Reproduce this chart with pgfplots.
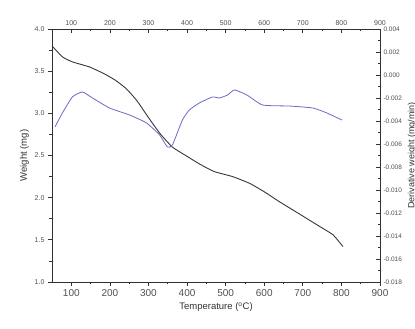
\documentclass[border=0pt]{standalone}
\usepackage{pgfplots}
\pgfplotsset{compat=1.18}
\usepackage{fontspec}
\setmainfont{Liberation Sans}
\definecolor{wcol}{RGB}{55,55,60}
\definecolor{dcol}{RGB}{105,105,200}
\definecolor{axcol}{RGB}{50,50,50}
\definecolor{lblcol}{RGB}{80,80,80}
\begin{document}
\begin{tikzpicture}
\clip (-52pt,-47pt) rectangle (363pt,282pt);
\begin{axis}[
  at={(0,0)}, anchor=south west,
  scale only axis, width=328pt, height=253pt,
  xmin=50, xmax=900, ymin=1, ymax=4,
  axis x line*=bottom, axis y line*=left,
  axis line style={axcol, line width=0.8pt},
  xtick={100,200,...,900}, minor x tick num=1,
  ytick={1,1.5,...,4}, minor y tick num=1,
  tick style={axcol, line width=0.7pt},
  major tick length=4pt, minor tick length=2.5pt,
  tick align=outside,
  /pgf/number format/assume math mode=true,
  yticklabel style={/pgf/number format/fixed, /pgf/number format/fixed zerofill, /pgf/number format/precision=1},
  x tick label style={font=\fontsize{10}{11}\selectfont, text=lblcol},
  y tick label style={font=\fontsize{7}{8}\selectfont, text=lblcol},
  xlabel={Temperature (\textsuperscript{o}C)},
  ylabel={Weight (mg)},
  label style={font=\fontsize{9.5}{10}\selectfont, text=axcol},
  xlabel style={yshift=1pt},
  ylabel style={yshift=-1pt},
]
\addplot[wcol, line width=0.9pt, smooth, tension=0.3] coordinates {
(50,3.80) (77,3.67) (103,3.61) (147,3.55) (185,3.47) (215,3.39) (243,3.29)
(270,3.15) (300,2.95) (330,2.76) (362,2.60) (400,2.49) (432,2.40) (470,2.31)
(518,2.25) (562,2.17) (600,2.07) (640,1.95) (690,1.81) (736,1.68) (778,1.56) (804,1.42)
};
\end{axis}
\begin{axis}[
  at={(0,0)}, anchor=south west,
  scale only axis, width=328pt, height=253pt,
  xmin=50, xmax=900, ymin=-0.018, ymax=0.004,
  axis x line*=top, axis y line*=right,
  axis line style={axcol, line width=0.8pt},
  xtick={100,200,...,900}, minor x tick num=1,
  ytick={-0.018,-0.016,...,0.004}, minor y tick num=1,
  scaled y ticks=false,
  tick style={axcol, line width=0.7pt},
  major tick length=4pt, minor tick length=2.5pt,
  tick align=inside,
  /pgf/number format/assume math mode=true,
  yticklabel style={/pgf/number format/fixed, /pgf/number format/fixed zerofill, /pgf/number format/precision=3},
  x tick label style={font=\fontsize{7}{8}\selectfont, text=lblcol},
  y tick label style={font=\fontsize{6.5}{7}\selectfont, text=lblcol},
  ylabel={Derivative weight (mg/min)},
  label style={font=\fontsize{9}{10}\selectfont, text=axcol},
  ylabel style={yshift=1pt},
]
\addplot[dcol, line width=0.8pt, smooth, tension=0.3] coordinates {
(58,-0.0045) (77,-0.0033) (103,-0.0019) (129,-0.00148) (155,-0.0020)
(199,-0.00287) (251,-0.00348) (295,-0.00417) (329,-0.00522) (349,-0.00626)
(362,-0.00609) (388,-0.00391) (406,-0.00304) (432,-0.00243) (466,-0.00191)
(484,-0.0020) (505,-0.00174) (523,-0.0013) (555,-0.00174) (596,-0.00261)
(666,-0.0027) (726,-0.00287) (762,-0.0033) (801,-0.00391)
};
\end{axis}
\end{tikzpicture}
\end{document}
